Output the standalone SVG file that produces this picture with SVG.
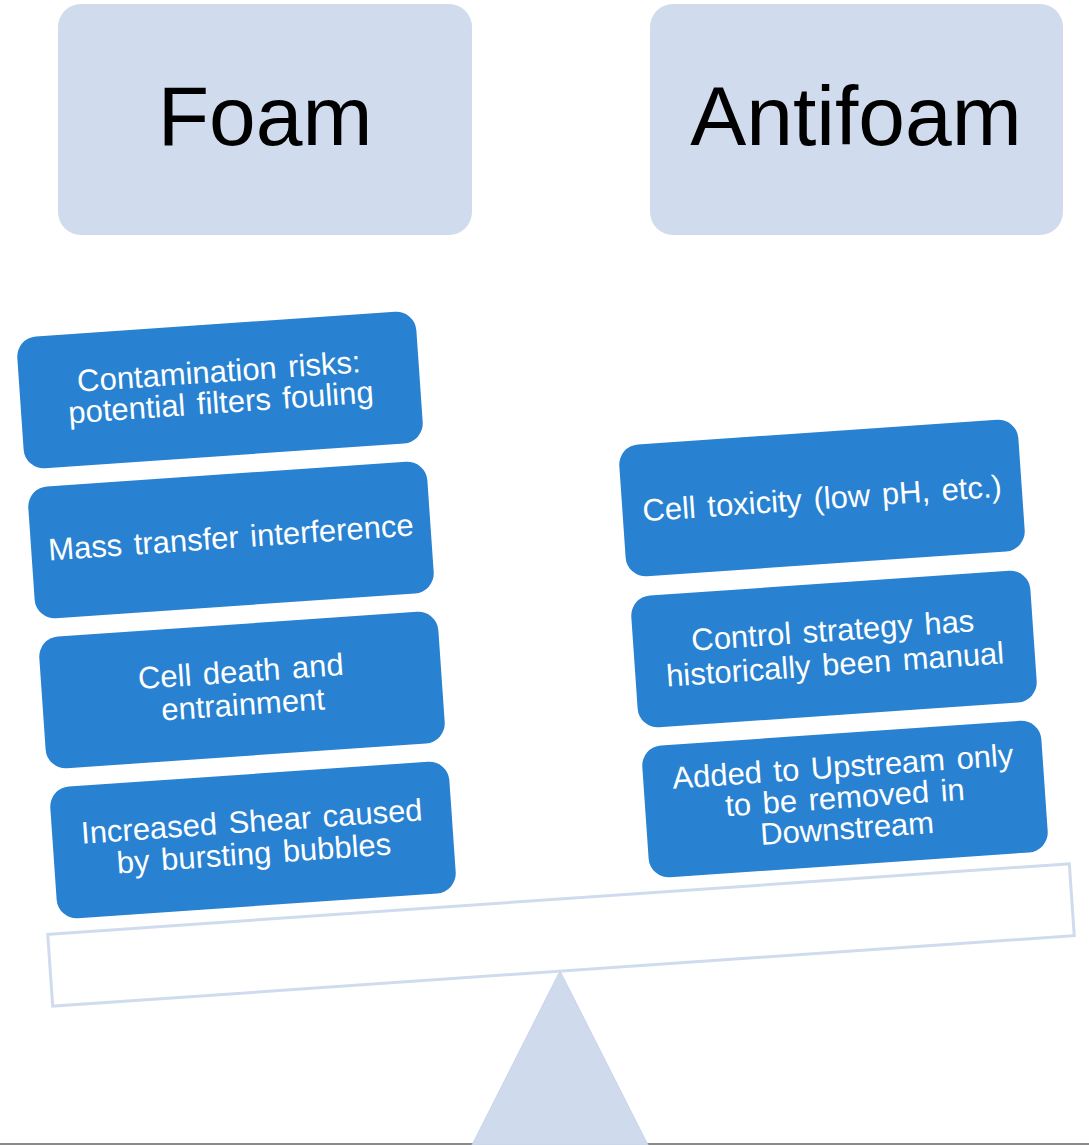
<svg xmlns="http://www.w3.org/2000/svg" width="1089" height="1145" viewBox="0 0 1089 1145">
<style>
.title{fill:#D0DCEE}
.ttxt{font-family:"Liberation Sans",Arial,sans-serif;font-size:84px;fill:#000;text-anchor:middle}
.box{fill:#2882D1}
.btxt{font-family:"Liberation Sans",Arial,sans-serif;font-size:31px;fill:#fff;text-anchor:middle;word-spacing:3px}
</style>
<rect width="1089" height="1145" fill="#fff"/>
<g id="base">
<line x1="0" y1="1144" x2="1089" y2="1144" stroke="#8a8a8a" stroke-width="2"/>
<polygon points="560,971 472,1145 648,1145" fill="#CFDAEC" stroke="#C6D3EA" stroke-width="1"/>
</g>
<g id="beam" transform="translate(561,935) rotate(-3.95)">
<rect x="-512" y="-36" width="1024" height="72" fill="#fff" stroke="#D0DCEE" stroke-width="3"/>
</g>
<g id="foam">
<rect class="title" x="58" y="4" width="414" height="231" rx="23"/>
<text class="ttxt" x="265" y="145">Foam</text>
</g>
<g id="antifoam">
<rect class="title" x="650" y="4" width="413" height="231" rx="23"/>
<text class="ttxt" x="856" y="145">Antifoam</text>
</g>
<g id="foam1" transform="translate(220,390) rotate(-3.95)">
<rect class="box" x="-200" y="-66" width="400" height="132" rx="20"/>
<text class="btxt" x="0" y="-8">Contamination risks:</text>
<text class="btxt" x="0" y="23">potential filters fouling</text>
</g>
<g id="foam2" transform="translate(231,540) rotate(-3.95)">
<rect class="box" x="-200" y="-66" width="400" height="132" rx="20"/>
<text class="btxt" x="0" y="8">Mass transfer interference</text>
</g>
<g id="foam3" transform="translate(242,690) rotate(-3.95)">
<rect class="box" x="-200" y="-66" width="400" height="132" rx="20"/>
<text class="btxt" x="0" y="-8">Cell death and</text>
<text class="btxt" x="0" y="25">entrainment</text>
</g>
<g id="foam4" transform="translate(253,840) rotate(-3.95)">
<rect class="box" x="-200" y="-66" width="400" height="132" rx="20"/>
<text class="btxt" x="0" y="-8">Increased Shear caused</text>
<text class="btxt" x="0" y="24">by bursting bubbles</text>
</g>
<g id="anti1" transform="translate(822,498) rotate(-3.95)">
<rect class="box" x="-200" y="-66" width="400" height="132" rx="20"/>
<text class="btxt" x="0" y="11">Cell toxicity (low pH, etc.)</text>
</g>
<g id="anti2" transform="translate(834,649) rotate(-3.95)">
<rect class="box" x="-200" y="-66" width="400" height="132" rx="20"/>
<text class="btxt" x="0" y="-8">Control strategy has</text>
<text class="btxt" x="0" y="26">historically been manual</text>
</g>
<g id="anti3" transform="translate(845,799) rotate(-3.95)">
<rect class="box" x="-200" y="-66" width="400" height="132" rx="20"/>
<text class="btxt" x="0" y="-22">Added to Upstream only</text>
<text class="btxt" x="0" y="9">to be removed in</text>
<text class="btxt" x="0" y="40">Downstream</text>
</g>
</svg>
